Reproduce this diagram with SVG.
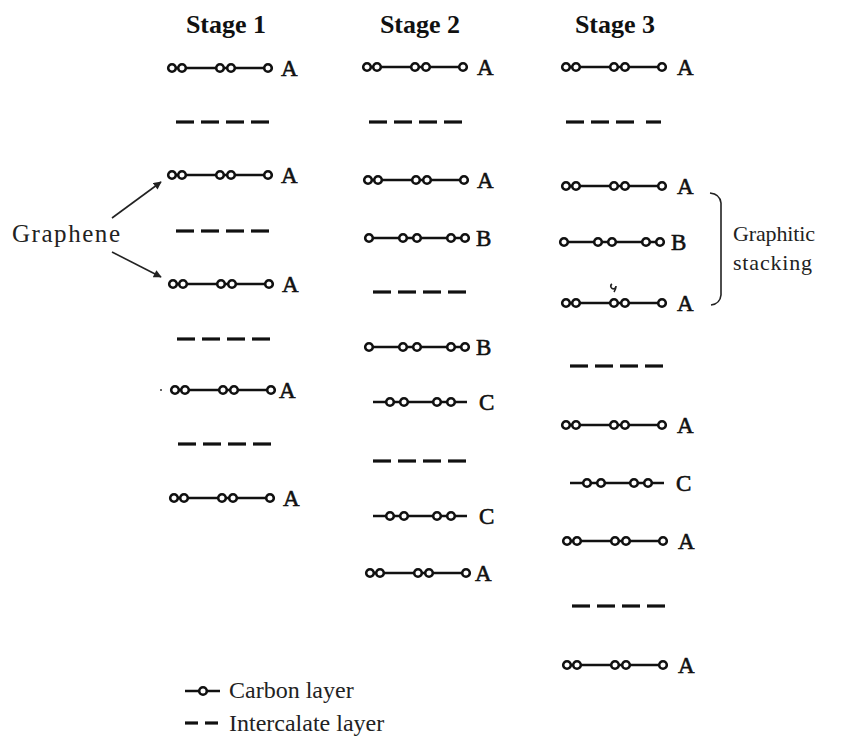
<svg xmlns="http://www.w3.org/2000/svg" xmlns:xlink="http://www.w3.org/1999/xlink" width="843" height="752" viewBox="0 0 843 752">
<style>
.title{font-family:"Liberation Serif",serif;font-weight:bold;font-size:26px;fill:#111;text-anchor:middle}
.lbl{font-family:"Liberation Serif",serif;font-size:23px;fill:#111;stroke:#111;stroke-width:0.6}
.txt{font-family:"Liberation Serif",serif;font-size:22px;fill:#222}
.gtxt{font-family:"Liberation Serif",serif;font-size:25px;fill:#222}
.leg{font-family:"Liberation Serif",serif;font-size:24px;fill:#222}
.ln{stroke:#111;stroke-width:2.6;fill:none}
.dash{stroke:#111;stroke-width:3.2;fill:none}
.atom{fill:#fff;stroke:#111;stroke-width:2.6}
.con{stroke:#222;stroke-width:1.6;fill:none}
</style>
<defs>
<g id="layerA"><line class="ln" x1="0" y1="0" x2="96" y2="0"/><circle class="atom" cx="0" cy="0" r="3.8"/><circle class="atom" cx="10" cy="0" r="3.8"/><circle class="atom" cx="48" cy="0" r="3.8"/><circle class="atom" cx="59" cy="0" r="3.8"/><circle class="atom" cx="96" cy="0" r="3.8"/></g>
<g id="layerB"><line class="ln" x1="0" y1="0" x2="96" y2="0"/><circle class="atom" cx="0" cy="0" r="3.8"/><circle class="atom" cx="34" cy="0" r="3.8"/><circle class="atom" cx="48" cy="0" r="3.8"/><circle class="atom" cx="82" cy="0" r="3.8"/><circle class="atom" cx="96" cy="0" r="3.8"/></g>
<g id="layerC"><line class="ln" x1="0" y1="0" x2="94" y2="0"/><circle class="atom" cx="17" cy="0" r="3.8"/><circle class="atom" cx="31" cy="0" r="3.8"/><circle class="atom" cx="64" cy="0" r="3.8"/><circle class="atom" cx="78" cy="0" r="3.8"/></g>
<g id="dash4"><line class="dash" x1="0" y1="0" x2="18" y2="0"/><line class="dash" x1="25" y1="0" x2="43" y2="0"/><line class="dash" x1="50" y1="0" x2="68" y2="0"/><line class="dash" x1="75" y1="0" x2="93" y2="0"/></g>
<marker id="arr" viewBox="0 0 10 10" refX="9" refY="5" markerWidth="9" markerHeight="8" orient="auto" markerUnits="userSpaceOnUse"><path d="M0,0 L10,5 L0,10 z" fill="#222"/></marker>
</defs>
<rect width="843" height="752" fill="#fff"/>

<g id="titles">
<text class="title" x="226" y="33">Stage 1</text>
<text class="title" x="420" y="33">Stage 2</text>
<text class="title" x="615" y="33">Stage 3</text>
</g>

<g id="stage1">
<g id="s1-r1"><use xlink:href="#layerA" x="172" y="68"/><text class="lbl" x="281" y="76">A</text></g>
<g id="s1-d1"><use xlink:href="#dash4" x="176" y="122"/></g>
<g id="s1-r2"><use xlink:href="#layerA" x="172" y="175"/><text class="lbl" x="281" y="183">A</text></g>
<g id="s1-d2"><use xlink:href="#dash4" x="176" y="231"/></g>
<g id="s1-r3"><use xlink:href="#layerA" x="173" y="284"/><text class="lbl" x="282" y="292">A</text></g>
<g id="s1-d3"><use xlink:href="#dash4" x="177" y="339"/></g>
<g id="s1-r4"><circle cx="161" cy="390" r="1" fill="#333"/><use xlink:href="#layerA" x="175" y="390"/><text class="lbl" x="279" y="398">A</text></g>
<g id="s1-d4"><use xlink:href="#dash4" x="178" y="444"/></g>
<g id="s1-r5"><use xlink:href="#layerA" x="174" y="498"/><text class="lbl" x="283" y="506">A</text></g>
</g>

<g id="stage2">
<g id="s2-r1"><use xlink:href="#layerA" x="367" y="67"/><text class="lbl" x="477" y="75">A</text></g>
<g id="s2-d1"><use xlink:href="#dash4" x="369" y="122"/></g>
<g id="s2-r2"><use xlink:href="#layerA" x="368" y="180"/><text class="lbl" x="477" y="188">A</text></g>
<g id="s2-r3"><use xlink:href="#layerB" x="369" y="238"/><text class="lbl" x="476" y="246">B</text></g>
<g id="s2-d2"><use xlink:href="#dash4" x="373" y="292"/></g>
<g id="s2-r4"><use xlink:href="#layerB" x="369" y="347"/><text class="lbl" x="476" y="355">B</text></g>
<g id="s2-r5"><use xlink:href="#layerC" x="373" y="402"/><text class="lbl" x="479" y="410">C</text></g>
<g id="s2-d3"><use xlink:href="#dash4" x="373" y="461"/></g>
<g id="s2-r6"><use xlink:href="#layerC" x="373" y="516"/><text class="lbl" x="479" y="524">C</text></g>
<g id="s2-r7"><use xlink:href="#layerA" x="370" y="573"/><text class="lbl" x="475" y="581">A</text></g>
</g>

<g id="stage3">
<g id="s3-r1"><use xlink:href="#layerA" x="566" y="67"/><text class="lbl" x="677" y="75">A</text></g>
<g id="s3-d1"><line class="dash" x1="566" y1="122" x2="584" y2="122"/><line class="dash" x1="591" y1="122" x2="609" y2="122"/><line class="dash" x1="616" y1="122" x2="634" y2="122"/><line class="dash" x1="646" y1="122" x2="661" y2="122"/></g>
<g id="s3-r2"><use xlink:href="#layerA" x="566" y="186"/><text class="lbl" x="677" y="194">A</text></g>
<g id="s3-r3"><use xlink:href="#layerB" x="564" y="242"/><text class="lbl" x="671" y="250">B</text></g>
<g id="s3-r4"><path d="M612,284 a2.6,2.6 0 1 0 4,2 q0,3 -2,6" stroke="#222" stroke-width="1.6" fill="none"/><use xlink:href="#layerA" x="566" y="303"/><text class="lbl" x="677" y="311">A</text></g>
<g id="s3-d2"><use xlink:href="#dash4" x="570" y="366"/></g>
<g id="s3-r5"><use xlink:href="#layerA" x="566" y="425"/><text class="lbl" x="677" y="433">A</text></g>
<g id="s3-r6"><use xlink:href="#layerC" x="570" y="483"/><text class="lbl" x="676" y="491">C</text></g>
<g id="s3-r7"><use xlink:href="#layerA" x="567" y="541"/><text class="lbl" x="678" y="549">A</text></g>
<g id="s3-d3"><use xlink:href="#dash4" x="572" y="606"/></g>
<g id="s3-r8"><use xlink:href="#layerA" x="567" y="665"/><text class="lbl" x="678" y="673">A</text></g>
</g>

<g id="graphene-label"><text class="gtxt" x="12" y="242" textLength="108" lengthAdjust="spacing">Graphene</text></g>
<g id="stacking-label"><text class="txt" x="733" y="241" textLength="82" lengthAdjust="spacing">Graphitic</text><text class="txt" x="733" y="270" textLength="79" lengthAdjust="spacing">stacking</text></g>

<g id="connectors">
<line class="con" x1="112" y1="218" x2="161" y2="182" marker-end="url(#arr)"/>
<line class="con" x1="112" y1="252" x2="161" y2="277" marker-end="url(#arr)"/>
<path class="con" d="M710,193 Q720,194 721,203 L721,295 Q720,304 711,305"/>
</g>

<g id="legend">
<g id="leg-carbon"><line class="ln" x1="185" y1="691" x2="220" y2="691"/><circle class="atom" cx="203" cy="691" r="3.8"/><text class="leg" x="229" y="698">Carbon layer</text></g>
<g id="leg-inter"><line class="dash" x1="185" y1="723" x2="198" y2="723"/><line class="dash" x1="205" y1="723" x2="218" y2="723"/><text class="leg" x="229" y="731">Intercalate layer</text></g>
</g>
</svg>
